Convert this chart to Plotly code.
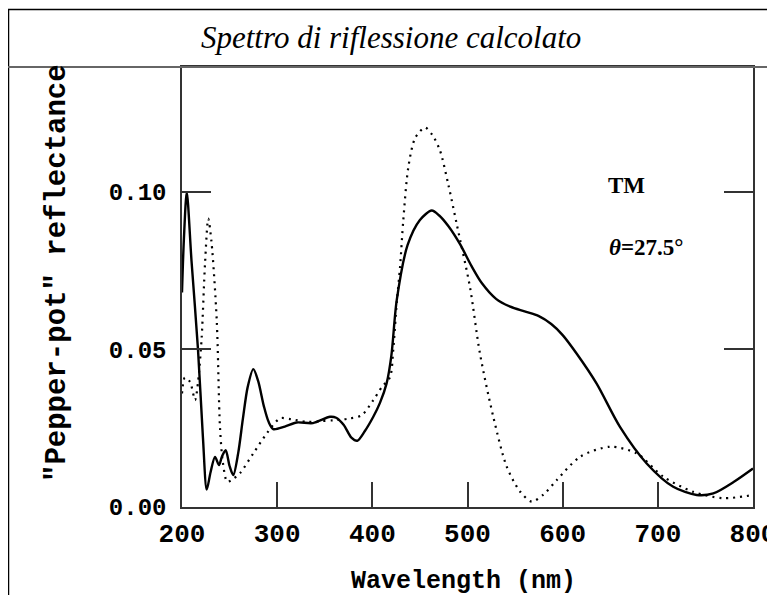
import plotly.graph_objects as go

# ---- data ----
wl_solid = [200, 202, 205, 210, 216.8, 222, 226, 230, 234.7, 238.9, 242, 245.9, 250, 253.9,
            259, 264, 269, 274.9, 280, 286, 291, 295.9, 308, 320.5, 337.6, 355.5, 362, 370,
            378, 384.2, 392, 401, 408, 415, 420, 425.6, 437, 450, 462.4, 470, 480, 492,
            504, 515, 530, 545, 560, 575, 588, 600, 615, 635.7, 660.2, 688.3, 716.2,
            740.8, 758.3, 780, 800]
r_solid = [0.068, 0.085, 0.0998, 0.078, 0.050, 0.022, 0.0055, 0.011, 0.0159, 0.0133, 0.016,
           0.018, 0.013, 0.0101, 0.017, 0.028, 0.038, 0.0437, 0.040, 0.032, 0.027, 0.0247,
           0.0255, 0.0268, 0.0266, 0.0286, 0.0283, 0.026, 0.022, 0.021, 0.024, 0.0286, 0.033,
           0.0392, 0.048, 0.0655, 0.083, 0.091, 0.094, 0.0925, 0.089, 0.0834, 0.0765,
           0.071, 0.066, 0.0635, 0.062, 0.0605, 0.058, 0.0545, 0.0485, 0.0391, 0.0254,
           0.0138, 0.0064, 0.0038, 0.0043, 0.008, 0.0122]

wl_dot = [200, 203, 208.4, 213.7, 217, 220.7, 224.2, 227.6, 231, 236.5, 239.9, 243, 247.6,
          254, 260.9, 274.9, 289, 303, 315, 331, 345, 359, 375, 388.8, 401, 410, 418.6, 422,
          425.6, 429.1, 432.5, 437.8, 445, 455.3, 463, 471.1, 480, 488.6, 502.6, 513.1,
          527.1, 541.2, 555, 567.5, 580, 593.7, 618.2, 649.7, 677.8, 705.8, 737.3, 768.8, 800]
r_dot = [0.036, 0.041, 0.0397, 0.0339, 0.040, 0.0539, 0.0772, 0.0914, 0.084, 0.0592, 0.0254,
         0.014, 0.008, 0.009, 0.0107, 0.017, 0.0233, 0.0281, 0.0278, 0.027, 0.0272, 0.0275,
         0.028, 0.0291, 0.0339, 0.038, 0.0412, 0.050, 0.0646, 0.076, 0.0908, 0.1077, 0.117,
         0.1203, 0.118, 0.113, 0.102, 0.0898, 0.0697, 0.0486, 0.0286, 0.0128, 0.005, 0.0017,
         0.004, 0.0085, 0.0159, 0.0191, 0.017, 0.0096, 0.0048, 0.0028, 0.0038]

x_ticks = [200, 300, 400, 500, 600, 700, 800]
y_ticks = [0.00, 0.05, 0.10]

title_text = "Spettro di riflessione calcolato"
x_title = "Wavelength (nm)"
y_title = '"Pepper-pot" reflectance'
label_mode = "TM"
label_angle = "<i>θ</i>=27.5°"

# ---- layout geometry (page pixels; the page body has an 8px margin) ----
OFF = 8
W, H = 775 - OFF, 603 - 2 * OFF
L, R, T, B = 182 - OFF, 753 - OFF, 67 - OFF, 507 - OFF
PW, PH = R - L, B - T


def px_x(px):
    return (px - OFF - L) / PW


def px_y(py):
    return (B - (py - OFF)) / PH


AX = "#333333"

fig = go.Figure()
fig.add_trace(go.Scatter(x=wl_dot, y=r_dot, mode="lines",
                         line=dict(color="black", width=2.2, dash="2px,5px", shape="spline",
                                   smoothing=0.8),
                         showlegend=False, hoverinfo="skip"))
fig.add_trace(go.Scatter(x=wl_solid, y=r_solid, mode="lines",
                         line=dict(color="black", width=2.4, shape="spline", smoothing=0.8),
                         showlegend=False, hoverinfo="skip"))

fig.update_layout(
    width=W, height=H,
    margin=dict(l=L, r=W - R, t=T, b=H - B, pad=0, autoexpand=False),
    paper_bgcolor="white", plot_bgcolor="white",
    showlegend=False,
    xaxis=dict(range=[200, 800], tickvals=x_ticks, ticktext=[str(v) for v in x_ticks],
               ticks="inside", ticklen=25, tickwidth=1.5, tickcolor=AX,
               showline=True, linecolor=AX, linewidth=1.5, mirror=True,
               showgrid=False, zeroline=False, automargin=False,
               tickfont=dict(family="Liberation Mono", size=26, color="black", weight="bold"),
               ticklabelstandoff=2, ticklabeloverflow="allow"),
    yaxis=dict(range=[0, 0.1395], tickvals=y_ticks, ticktext=["%.2f" % v for v in y_ticks],
               ticks="inside", ticklen=29, tickwidth=1.5, tickcolor=AX,
               showline=True, linecolor=AX, linewidth=1.5, mirror="ticks",
               showgrid=False, zeroline=False, automargin=False,
               tickfont=dict(family="Liberation Mono", size=24, color="black", weight="bold"),
               ticklabelstandoff=9, ticklabeloverflow="allow"),
)

# outer frame and title separator
fig.add_shape(type="rect", xref="paper", yref="paper",
              x0=px_x(8.5), x1=px_x(800), y0=px_y(9.5), y1=px_y(640),
              line=dict(color="black", width=1.5), fillcolor="rgba(0,0,0,0)", layer="above")
fig.add_shape(type="line", xref="paper", yref="paper",
              x0=px_x(7), x1=px_x(800), y0=px_y(67), y1=px_y(67),
              line=dict(color="#666666", width=2), layer="above")

# title
fig.add_annotation(xref="paper", yref="paper", x=px_x(391), y=px_y(37),
                   text="<i>" + title_text + "</i>", showarrow=False,
                   xanchor="center", yanchor="middle",
                   font=dict(family="Liberation Serif", size=31, color="black"))

# axis titles
fig.add_annotation(xref="paper", yref="paper", x=px_x(463), y=px_y(581),
                   text=x_title, showarrow=False, xanchor="center", yanchor="middle",
                   font=dict(family="Liberation Mono", size=25, color="black", weight="bold"))
fig.add_annotation(xref="paper", yref="paper", x=px_x(57), y=px_y(273),
                   text=y_title, showarrow=False, textangle=-90,
                   xanchor="center", yanchor="middle",
                   font=dict(family="Liberation Mono", size=29, color="black", weight="bold"))

# in-plot labels
fig.add_annotation(xref="paper", yref="paper", x=px_x(606), y=px_y(185),
                   text=label_mode, showarrow=False,
                   xanchor="left", yanchor="middle",
                   font=dict(family="Liberation Serif", size=23, color="black", weight="bold"))
fig.add_annotation(xref="paper", yref="paper", x=px_x(607), y=px_y(247),
                   text=label_angle, showarrow=False,
                   xanchor="left", yanchor="middle",
                   font=dict(family="Liberation Serif", size=23, color="black", weight="bold"))

fig.write_html("out.html")
